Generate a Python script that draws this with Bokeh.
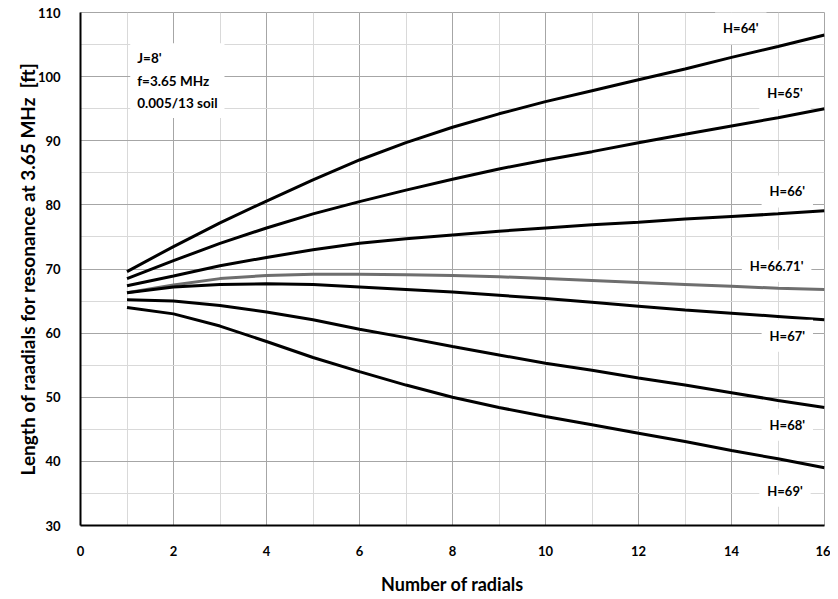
from bokeh.plotting import figure
from bokeh.models import Label, SingleIntervalTicker, Range1d
from bokeh.embed import file_html
from bokeh.resources import INLINE

# ---- data ----
radials = [1, 2, 3, 4, 5, 6, 7, 8, 9, 10, 11, 12, 13, 14, 15, 16]
h64 = [69.6, 73.5, 77.2, 80.6, 83.9, 87.0, 89.7, 92.1, 94.2, 96.1, 97.8, 99.5, 101.2, 103.0, 104.7, 106.5]
h65 = [68.5, 71.3, 74.0, 76.4, 78.6, 80.5, 82.3, 84.0, 85.6, 87.0, 88.3, 89.7, 91.0, 92.3, 93.6, 95.0]
h66 = [67.4, 68.9, 70.5, 71.8, 73.0, 74.0, 74.7, 75.3, 75.9, 76.4, 76.9, 77.3, 77.8, 78.2, 78.6, 79.1]
h6671 = [66.3, 67.5, 68.5, 69.0, 69.2, 69.2, 69.1, 69.0, 68.8, 68.5, 68.2, 67.9, 67.6, 67.3, 67.0, 66.8]
h67 = [66.3, 67.2, 67.6, 67.7, 67.6, 67.2, 66.8, 66.4, 65.9, 65.4, 64.8, 64.2, 63.6, 63.1, 62.6, 62.1]
h68 = [65.2, 65.0, 64.3, 63.3, 62.1, 60.6, 59.3, 57.9, 56.6, 55.3, 54.2, 53.0, 51.9, 50.7, 49.5, 48.4]
h69 = [64.0, 63.0, 61.1, 58.7, 56.2, 54.0, 51.9, 50.0, 48.4, 47.0, 45.7, 44.4, 43.1, 41.7, 40.4, 39.0]

series_names = ["H=64'", "H=65'", "H=66'", "H=66.71'", "H=67'", "H=68'", "H=69'"]
series_values = [h64, h65, h66, h6671, h67, h68, h69]
series_colors = ["#000000", "#000000", "#000000", "#6e6e6e", "#000000", "#000000", "#000000"]

# label anchor points (data units)
label_x = [14.2, 15.15, 15.2, 14.97, 15.2, 15.2, 15.15]
label_y = [107.6, 97.4, 82.1, 70.5, 59.6, 45.7, 35.4]

note_text = "J=8'\nf=3.65 MHz\n0.005/13 soil"

FONT = "Lato"

p = figure(width=830, height=597, output_backend="svg", toolbar_location=None,
           x_range=Range1d(0, 16), y_range=Range1d(30, 110),
           min_border_left=80, min_border_right=6, min_border_top=12, min_border_bottom=66,
           background_fill_color="white", border_fill_color="white")

p.outline_line_color = "#a6a6a6"
p.outline_line_width = 1

p.xaxis.ticker = SingleIntervalTicker(interval=2, num_minor_ticks=2)
p.yaxis.ticker = SingleIntervalTicker(interval=10, num_minor_ticks=2)

for g in (p.xgrid, p.ygrid):
    g.grid_line_color = "#a6a6a6"
    g.grid_line_width = 1
    g.minor_grid_line_color = "#d9d9d9"
    g.minor_grid_line_width = 1

for ax in (p.xaxis, p.yaxis):
    ax.axis_line_color = "black"
    ax.axis_line_width = 2
    ax.major_tick_line_color = None
    ax.minor_tick_line_color = None
    ax.major_label_text_font = FONT
    ax.major_label_text_font_style = "bold"
    ax.major_label_text_font_size = "13px"
    ax.major_label_text_color = "black"
    ax.axis_label_text_font = FONT
    ax.axis_label_text_font_style = "bold"
    ax.axis_label_text_color = "black"

p.xaxis.axis_label_text_font_size = "18px"
p.yaxis.axis_label_text_font_size = "19px"
p.yaxis.major_label_standoff = 14
p.xaxis.major_label_standoff = 14
p.yaxis.axis_label = "Length of raadials for resonance at 3.65 MHz\u00a0 [ft]"
p.xaxis.axis_label = "Number of radials"
p.yaxis.axis_label_standoff = -4
p.xaxis.axis_label_standoff = 14

for vals, col in zip(series_values, series_colors):
    p.line(radials, vals, line_color=col, line_width=3)

for name, lx, ly in zip(series_names, label_x, label_y):
    p.add_layout(Label(x=lx, y=ly, text=name, text_align="center", text_baseline="middle",
                       text_font=FONT, text_font_style="bold", text_font_size="13px",
                       text_color="black", background_fill_color="white", padding=8))

p.add_layout(Label(x=1.07, y=105.2, text=note_text, text_align="left", text_baseline="top",
                   text_font=FONT, text_font_style="bold", text_font_size="13.5px",
                   text_line_height=1.4,
                   text_color="black", background_fill_color="white", padding=7))

open("out.html", "w").write(file_html(p, INLINE))
